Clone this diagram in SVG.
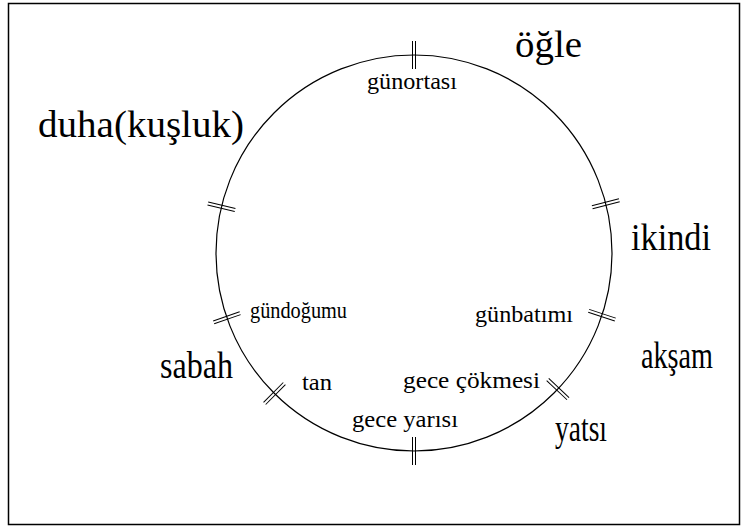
<svg xmlns="http://www.w3.org/2000/svg" width="741" height="528" viewBox="0 0 741 528">
<style>
.frame{fill:#fff;stroke:#000;stroke-width:1.5}
.ring{fill:none;stroke:#000;stroke-width:1.2}
.tk line{stroke:#000;stroke-width:1}
text{font-family:'Liberation Serif',serif;fill:#000}
.big{font-size:38px}
.sm{font-size:23px}
</style>
<defs>
<g id="tick" class="tk"><line x1="184" y1="-1.5" x2="212" y2="-1.5"/><line x1="184" y1="1.5" x2="212" y2="1.5"/></g>
</defs>
<rect class="frame" x="8.5" y="3.5" width="731" height="521"/>
<g id="connectors">
<circle class="ring" cx="414" cy="253" r="198"/>
</g>
<g id="gunortasi">
<use href="#tick" transform="translate(414 253) rotate(-90)"/>
<text class="sm" x="367" y="89" textLength="90" lengthAdjust="spacingAndGlyphs">günortası</text>
</g>
<g id="ogle"><text class="big" x="515" y="57" textLength="67" lengthAdjust="spacingAndGlyphs">öğle</text></g>
<g id="duha">
<use href="#tick" transform="translate(414 253) rotate(-166.5)"/>
<text class="big" x="38" y="137" textLength="206" lengthAdjust="spacingAndGlyphs">duha(kuşluk)</text>
</g>
<g id="gundogumu">
<use href="#tick" transform="translate(414 253) rotate(160.9)"/>
<text class="sm" x="250" y="318" textLength="97" lengthAdjust="spacingAndGlyphs">gündoğumu</text>
</g>
<g id="sabah"><text class="big" x="160" y="378" textLength="73" lengthAdjust="spacingAndGlyphs">sabah</text></g>
<g id="tan">
<use href="#tick" transform="translate(414 253) rotate(134.8)"/>
<text class="sm" x="302" y="390" textLength="30" lengthAdjust="spacingAndGlyphs">tan</text>
</g>
<g id="geceyarisi">
<use href="#tick" transform="translate(414 253) rotate(90)"/>
<text class="sm" x="352" y="427" textLength="106" lengthAdjust="spacingAndGlyphs">gece yarısı</text>
</g>
<g id="gececokmesi">
<use href="#tick" transform="translate(414 253) rotate(43.4)"/>
<text class="sm" x="403" y="388" textLength="137" lengthAdjust="spacingAndGlyphs">gece çökmesi</text>
</g>
<g id="yatsi"><text class="big" x="555" y="441" textLength="52" lengthAdjust="spacingAndGlyphs">yatsı</text></g>
<g id="gunbatimi">
<use href="#tick" transform="translate(414 253) rotate(18.3)"/>
<text class="sm" x="475" y="322" textLength="98" lengthAdjust="spacingAndGlyphs">günbatımı</text>
</g>
<g id="aksam"><text class="big" x="641" y="368" textLength="72" lengthAdjust="spacingAndGlyphs">akşam</text></g>
<g id="ikindi">
<use href="#tick" transform="translate(414 253) rotate(-14.4)"/>
<text class="big" x="631" y="250" textLength="80" lengthAdjust="spacingAndGlyphs">ikindi</text>
</g>
</svg>
